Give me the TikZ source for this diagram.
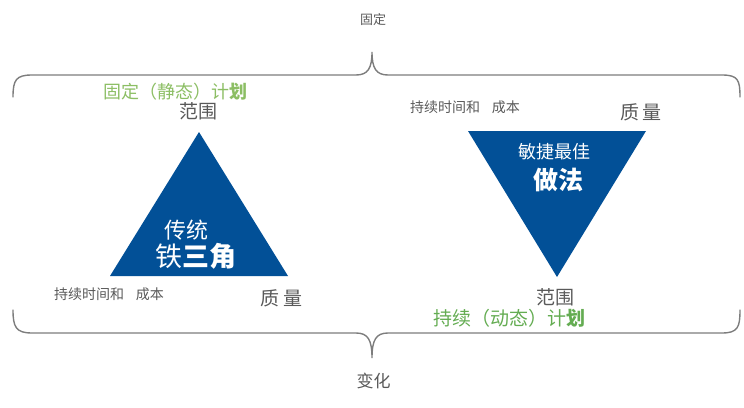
\documentclass[tikz,border=0pt]{standalone}
\usepackage{fontspec}
\usepackage{xcolor}
\usepackage{tikz}
\usetikzlibrary{calc}
\newfontfamily\cjk{Noto Sans CJK SC}
\definecolor{txtgray}{RGB}{89,89,89}
\definecolor{bracegray}{RGB}{125,125,125}
\definecolor{triblue}{RGB}{2,80,151}
\definecolor{fixgreen}{RGB}{140,190,100}
\definecolor{dyngreen}{RGB}{100,172,82}
\tikzset{
  lbl/.style={text=txtgray, inner sep=0pt, font=\cjk},
  plan/.style={inner sep=0pt, font=\cjk},
  inner/.style={text=white, inner sep=0pt, font=\cjk},
  brace/.style={draw=bracegray, line width=1.4pt, line cap=round},
  tri/.style={fill=triblue, draw=none}
}
\begin{document}
\begin{tikzpicture}[x=1pt,y=-1pt]
        \useasboundingbox (0,0) rectangle (744,407);

        % Marking label above the top brace
        \node [lbl, font=\cjk\fontsize{13}{15}\selectfont] (fixed) at (373,19.5) {固定};%

        % Drawing top brace
        \draw [brace] (13,97) .. controls (13,80) and (16,75) .. (32,75) -- (356,75)
              .. controls (368,75) and (372,68) .. (372,52)
              .. controls (372,68) and (376,75) .. (388,75) -- (722,75)
              .. controls (738,75) and (740,80) .. (740,97);%

        % Drawing left triangle (fixed)
        \draw [tri] (199,132) -- (288,276) -- (110,276) -- cycle;%
        \node [plan, text=fixgreen, font=\cjk\fontsize{18}{20}\selectfont] (fixplan) at (175,91.5) {固定（静态）计\textbf{划}};%
        \node [lbl, font=\cjk\fontsize{19}{21}\selectfont] (scopeL) at (198,111) {范围};%
        \node [inner, font=\cjk\fontsize{22}{24}\selectfont] (tradL) at (186,230.5) {传统};%
        \node [inner, font=\cjk\fontsize{27}{29}\selectfont] (tradT) at (196,256) {铁\textbf{三角}};%
        \node [lbl, font=\cjk\fontsize{14}{16}\selectfont] (timeL) at (109,294) {持续时间和\hspace{0.85em}成本};%
        \node [lbl, font=\cjk\fontsize{19}{21}\selectfont] (qualL) at (281.5,298) {质\hspace{0.2em}量};%

        % Drawing right triangle (agile)
        \draw [tri] (468,131) -- (646,131) -- (557,277) -- cycle;%
        \node [lbl, font=\cjk\fontsize{14}{16}\selectfont] (timeR) at (465,107.5) {持续时间和\hspace{0.85em}成本};%
        \node [lbl, font=\cjk\fontsize{19}{21}\selectfont] (qualR) at (641,112) {质\hspace{0.2em}量};%
        \node [inner, font=\cjk\fontsize{18}{20}\selectfont] (agileL) at (554,151.5) {敏捷最佳};%
        \node [inner, font=\cjk\fontsize{25}{27}\selectfont] (agileT) at (558,179.5) {\textbf{做法}};%
        \node [lbl, font=\cjk\fontsize{19}{21}\selectfont] (scopeR) at (555.5,297.5) {范围};%
        \node [plan, text=dyngreen, font=\cjk\fontsize{19}{21}\selectfont] (dynplan) at (509.5,318.5) {持续（动态）计\textbf{划}};%

        % Drawing bottom brace
        \draw [brace] (13,310) .. controls (13,327) and (16,333) .. (32,333) -- (356,333)
              .. controls (368,333) and (372,340) .. (372,358)
              .. controls (372,340) and (376,333) .. (388,333) -- (722,333)
              .. controls (738,333) and (740,327) .. (740,310);%

        % Marking label below the bottom brace
        \node [lbl, font=\cjk\fontsize{17}{19}\selectfont] (change) at (373.5,381) {变化};%
    \end{tikzpicture}
\end{document}
